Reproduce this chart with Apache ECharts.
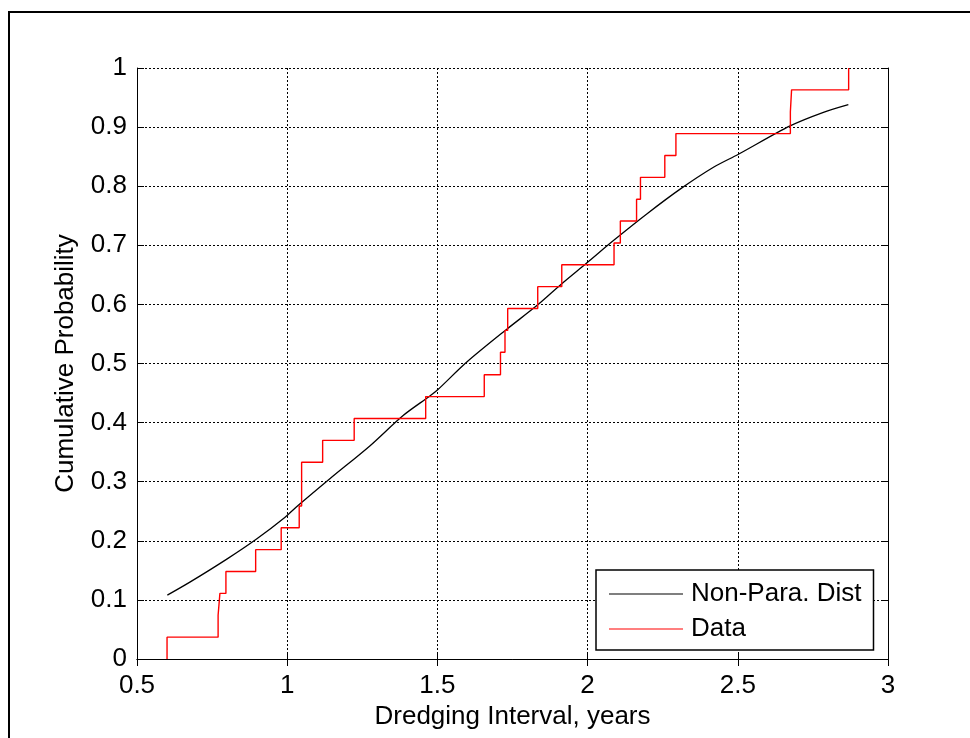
<!DOCTYPE html>
<html>
<head>
<meta charset="utf-8">
<script src="https://cdn.jsdelivr.net/npm/echarts@6/dist/echarts.min.js"></script>
<style>
  html, body { margin: 0; padding: 0; background: #fff; }
  #chart { width: 970px; height: 738px; }
</style>
</head>
<body>
<div id="chart"></div>
<script>
// Empirical CDF: jump locations (years) and the level reached at each jump
const dataX = [0.600, 0.770, 0.776, 0.796, 0.895, 0.980, 1.040, 1.048, 1.048,
               1.118, 1.223, 1.461, 1.656, 1.710, 1.725, 1.734, 1.834, 1.914,
               2.088, 2.109, 2.163, 2.176, 2.257, 2.294, 2.675, 2.679, 2.869];
const dataF = [0.037, 0.074, 0.111, 0.148, 0.185, 0.222, 0.259, 0.296, 0.333,
               0.370, 0.407, 0.444, 0.481, 0.519, 0.556, 0.593, 0.630, 0.667,
               0.704, 0.741, 0.778, 0.815, 0.852, 0.889, 0.926, 0.963, 1.000];

// Non-parametric (kernel) distribution estimate
const distX = [0.601, 0.676, 0.799, 0.898, 0.993, 1.037, 1.142, 1.276, 1.386,
               1.475, 1.500, 1.597, 1.731, 1.831, 1.914, 1.997, 2.086, 2.197,
               2.308, 2.419, 2.502, 2.674, 2.785, 2.868];
const distF = [0.108, 0.130, 0.169, 0.203, 0.240, 0.260, 0.305, 0.361, 0.412,
               0.445, 0.455, 0.502, 0.558, 0.598, 0.635, 0.670, 0.708, 0.753,
               0.795, 0.832, 0.854, 0.902, 0.925, 0.938];

const xTicks = [0.5, 1, 1.5, 2, 2.5, 3];
const yTicks = [0, 0.1, 0.2, 0.3, 0.4, 0.5, 0.6, 0.7, 0.8, 0.9, 1];

// stair points: start on the axis, then one point per jump
const stairPts = [[dataX[0], 0]].concat(dataX.map((x, i) => [x, dataF[i]]));
const distPts = distX.map((x, i) => [x, distF[i]]);

const FONT = 'Liberation Sans, Arial, sans-serif';
const FS = 26;

const chart = echarts.init(document.getElementById('chart'), null, { renderer: 'canvas' });

const fmtX = v => (xTicks.indexOf(v) >= 0 ? String(v) : '');
const fmtY = v => String(Math.round(v * 10) / 10);

const boxAxisLine = { show: true, lineStyle: { color: '#000', width: 1 } };
const innerTick = { show: true, inside: true, length: 7, lineStyle: { color: '#000', width: 1 } };
const gridDots = { show: true, lineStyle: { color: '#000', width: 1, type: [2, 2] } };

chart.setOption({
  backgroundColor: '#fff',
  animation: false,
  graphic: [{
    type: 'rect',
    shape: { x: 9, y: 12, width: 1000, height: 1000 },
    style: { fill: 'none', stroke: '#000', lineWidth: 2 },
    silent: true,
    z: -10
  }],
  grid: { left: 137, top: 68, width: 751, height: 591, containLabel: false },
  xAxis: [{
    type: 'value', min: 0.5, max: 3, interval: 0.5,
    name: 'Dredging Interval, years', nameLocation: 'middle', nameGap: 44,
    nameTextStyle: { fontFamily: FONT, fontSize: FS, color: '#000' },
    axisLine: boxAxisLine, axisTick: innerTick, splitLine: gridDots,
    axisLabel: { fontFamily: FONT, fontSize: FS, color: '#000', margin: 14, formatter: fmtX }
  }, {
    type: 'value', min: 0.5, max: 3, interval: 0.5, position: 'top',
    axisLine: boxAxisLine, axisTick: innerTick, splitLine: { show: false },
    axisLabel: { show: false }
  }],
  yAxis: [{
    type: 'value', min: 0, max: 1, interval: 0.1,
    name: 'Cumulative Probability', nameLocation: 'middle', nameGap: 58, nameRotate: 90,
    nameTextStyle: { fontFamily: FONT, fontSize: FS, color: '#000' },
    axisLine: boxAxisLine, axisTick: innerTick, splitLine: gridDots,
    axisLabel: { fontFamily: FONT, fontSize: FS, color: '#000', margin: 10, formatter: fmtY }
  }, {
    type: 'value', min: 0, max: 1, interval: 0.1, position: 'right',
    axisLine: boxAxisLine, axisTick: innerTick, splitLine: { show: false },
    axisLabel: { show: false }
  }],
  legend: {
    orient: 'vertical',
    left: 596, top: 570,
    backgroundColor: '#fff',
    borderColor: '#000', borderWidth: 1.5, borderRadius: 0,
    padding: [11, 12, 8, 13],
    icon: 'rect',
    itemWidth: 74, itemHeight: 1.2, itemGap: 9,
    textStyle: { fontFamily: FONT, fontSize: FS, color: '#000', lineHeight: 26, padding: [0, 0, 0, 3] },
    data: ['Non-Para. Dist', 'Data']
  },
  series: [{
    name: 'Non-Para. Dist',
    type: 'line',
    data: distPts,
    smooth: 0.3,
    symbol: 'none',
    lineStyle: { color: '#000', width: 1.3 },
    itemStyle: { color: '#000' },
    z: 3
  }, {
    name: 'Data',
    type: 'line',
    data: stairPts,
    step: 'end',
    symbol: 'none',
    lineStyle: { color: '#ff0000', width: 1.4 },
    itemStyle: { color: '#ff0000' },
    z: 4
  }]
});
</script>
</body>
</html>
